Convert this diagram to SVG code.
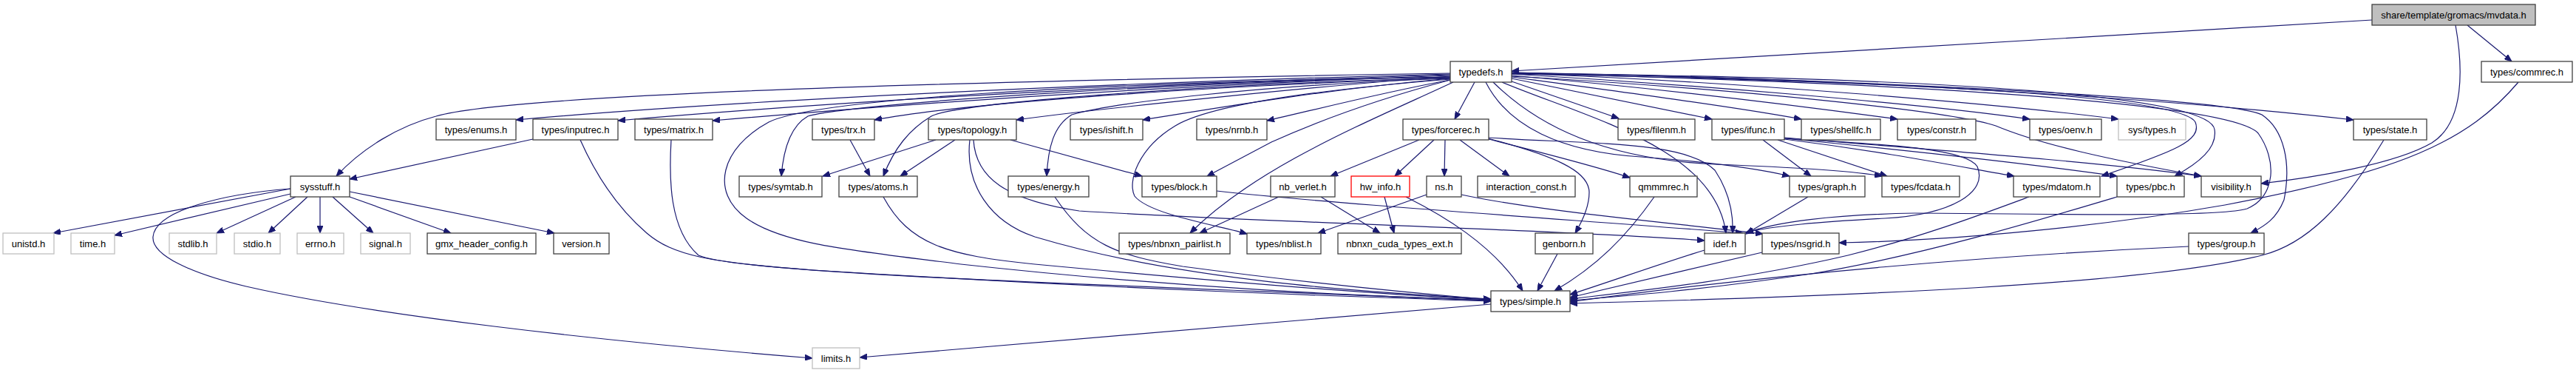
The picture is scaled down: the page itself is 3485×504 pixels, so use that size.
<svg xmlns="http://www.w3.org/2000/svg" width="3485" height="504" viewBox="0 0 3485 504">
<style>
.n rect{fill:#fff;stroke:#404040;stroke-width:1.3}
.g rect{fill:#fff;stroke:#bfbfbf;stroke-width:1.3}
.r rect{fill:#fff;stroke:#ff0000;stroke-width:1.3}
.root rect{fill:#bfbfbf;stroke:#404040;stroke-width:1.3}
text{font-family:"Liberation Sans",Arial,sans-serif;font-size:13px;fill:#000;text-anchor:middle}
#edges path{fill:none;stroke:#191970;stroke-width:1.2;marker-end:url(#a)}
</style>
<defs>
<marker id="a" markerWidth="11" markerHeight="8" refX="10" refY="4" orient="auto" markerUnits="userSpaceOnUse"><path d="M0,0 L10,4 L0,8 z" fill="#191970" stroke="#191970" stroke-width="1"/></marker>
</defs>
<rect width="3485" height="504" fill="#fff"/>
<g id="edges">
<path d="M3209,27 L2045,96"/>
<path d="M3338,34 L3398,83"/>
<path d="M3322,34 C3332,90 3335,165 3290,193 C3240,222 3130,240 3059,248"/>
<path d="M3407,111 C3340,190 3250,232 3010,277 C2850,305 2650,325 2488,328"/>
<path d="M1962,99 C1400,108 700,125 590,157 C540,170 490,200 455,238"/>
<path d="M1962,100 C1500,112 1000,135 698,162"/>
<path d="M1962,101 C1500,115 1100,140 836,163"/>
<path d="M1962,102 C1600,115 1250,138 964,163"/>
<path d="M1962,104 C1600,110 1150,140 1093,157 C1070,170 1060,200 1057,238"/>
<path d="M1962,104 C1450,112 1100,135 1040,165 C975,200 960,260 1010,295 C1060,330 1150,338 1300,357 C1600,390 1850,400 2017,406"/>
<path d="M1962,105 C1600,115 1290,140 1260,157 C1230,175 1210,200 1195,238"/>
<path d="M1962,105 C1600,118 1300,140 1183,162"/>
<path d="M1962,103 C1800,115 1500,145 1375,162"/>
<path d="M1962,106 C1700,115 1500,140 1450,155 C1425,170 1418,200 1416,238"/>
<path d="M1962,106 C1800,120 1650,145 1546,162"/>
<path d="M1962,107 C1800,120 1640,140 1590,170 C1540,200 1525,245 1535,265 C1555,290 1650,305 1687,316"/>
<path d="M1962,108 C1870,125 1780,148 1714,163"/>
<path d="M1962,108 C1860,135 1780,165 1720,192 L1633,238"/>
<path d="M1966,111 C1850,165 1700,225 1610,315"/>
<path d="M1995,111 L1968,161"/>
<path d="M2010,111 C2040,170 2110,205 2220,212 C2300,218 2370,226 2421,238"/>
<path d="M2020,111 C2080,170 2170,215 2320,222 C2420,226 2500,230 2546,238"/>
<path d="M2032,111 C2150,160 2320,200 2335,315"/>
<path d="M2045,110 L2190,160"/>
<path d="M2045,106 L2316,161"/>
<path d="M2045,104 C2200,125 2350,145 2437,161"/>
<path d="M2045,102 C2250,120 2450,145 2567,161"/>
<path d="M2045,100 C2300,115 2600,140 2746,161"/>
<path d="M2045,99 C2350,110 2700,140 2866,161"/>
<path d="M2045,98 C2500,105 2950,135 3184,162"/>
<path d="M2045,100 C2600,110 2950,130 2970,165 C2980,190 2940,205 2843,238"/>
<path d="M2045,99 C2650,105 2990,130 2996,175 C3000,200 2975,220 2942,238"/>
<path d="M2045,103 C2350,120 2640,150 2700,170 C2760,195 2850,215 2978,238"/>
<path d="M2045,98 C2600,110 3020,135 3060,155 C3090,175 3100,220 3090,270 C3080,295 3065,305 3045,315"/>
<path d="M2045,99 C2600,112 3020,140 3055,180 C3080,215 3080,265 3040,282 C3000,295 2700,288 2590,288 C2480,290 2400,300 2362,315"/>
<path d="M2385,189 L2450,238"/>
<path d="M2405,189 L2553,238"/>
<path d="M2414,188 C2550,205 2650,225 2725,238"/>
<path d="M2414,187 C2600,205 2750,222 2864,238"/>
<path d="M2414,186 C2650,205 2850,220 2978,238"/>
<path d="M2414,187 C2550,195 2660,200 2675,225 C2690,260 2640,290 2550,295 C2460,300 2400,305 2362,314"/>
<path d="M1920,189 L1800,238"/>
<path d="M1940,189 L1887,238"/>
<path d="M1955,189 L1954,238"/>
<path d="M1975,189 L2042,238"/>
<path d="M2013,187 C2100,210 2150,230 2150,260 C2150,280 2140,300 2131,315"/>
<path d="M2014,188 C2080,205 2150,222 2205,240"/>
<path d="M2014,186 C2150,195 2280,190 2320,230 C2340,260 2345,290 2344,315"/>
<path d="M1266,189 L1113,238"/>
<path d="M1292,189 L1218,238"/>
<path d="M1367,189 L1545,238"/>
<path d="M1312,189 C1305,250 1340,300 1400,320 C1600,380 1850,395 2017,404"/>
<path d="M1317,189 C1320,240 1360,270 1460,285 C1700,300 2100,310 2306,325"/>
<path d="M1150,189 L1177,238"/>
<path d="M1195,266 C1230,330 1280,345 1400,357 C1700,385 1900,400 2017,405"/>
<path d="M721,188 L473,242"/>
<path d="M785,189 C810,245 840,285 875,315 C910,345 960,355 1100,365 C1500,390 1800,400 2017,407"/>
<path d="M908,189 C905,240 905,310 945,345 C1000,370 1500,385 2017,406"/>
<path d="M1427,266 C1470,330 1510,345 1600,360 C1750,380 1900,395 2017,405"/>
<path d="M1646,258 C1800,275 2100,295 2358,315"/>
<path d="M1730,266 L1623,315"/>
<path d="M1787,266 L1867,315"/>
<path d="M1873,266 L1886,315"/>
<path d="M1902,266 C1950,290 2020,330 2060,393"/>
<path d="M1930,263 L1783,315"/>
<path d="M1977,263 C2080,285 2250,300 2385,316"/>
<path d="M2107,343 L2080,393"/>
<path d="M2238,266 C2200,320 2160,360 2103,393"/>
<path d="M2446,266 L2362,316"/>
<path d="M2306,338 C2250,355 2180,380 2124,398"/>
<path d="M2384,341 C2300,360 2200,385 2124,402"/>
<path d="M2745,266 C2680,290 2600,320 2500,345 C2350,380 2200,395 2124,404"/>
<path d="M2864,266 C2750,300 2600,345 2450,370 C2300,392 2200,400 2124,406"/>
<path d="M2961,333 C2700,345 2400,370 2124,408"/>
<path d="M3225,189 C3170,280 3120,330 3060,345 C2900,385 2500,400 2124,410"/>
<path d="M393,255 L72,315"/>
<path d="M393,262 L155,318"/>
<path d="M400,266 L293,315"/>
<path d="M416,266 L363,315"/>
<path d="M433,266 L433,315"/>
<path d="M450,266 L505,315"/>
<path d="M473,266 L610,315"/>
<path d="M473,259 L750,315"/>
<path d="M393,255 C300,262 210,285 207,320 C205,345 260,370 333,387 C500,425 800,460 1099,484"/>
<path d="M2017,411 L1163,483"/>
</g>
<g id="n_mvdata" class="root"><rect x="3209" y="6" width="221" height="28"/><text x="3319.5" y="24.5">share/template/gromacs/mvdata.h</text></g>
<g id="n_typedefs" class="n"><rect x="1962" y="83" width="83" height="28"/><text x="2003.5" y="101.5">typedefs.h</text></g>
<g id="n_commrec" class="n"><rect x="3357" y="83" width="123" height="28"/><text x="3418.5" y="101.5">types/commrec.h</text></g>
<g id="n_enums" class="n"><rect x="590" y="161" width="108" height="28"/><text x="644" y="179.5">types/enums.h</text></g>
<g id="n_inputrec" class="n"><rect x="721" y="161" width="115" height="28"/><text x="778.5" y="179.5">types/inputrec.h</text></g>
<g id="n_matrix" class="n"><rect x="859" y="161" width="105" height="28"/><text x="911.5" y="179.5">types/matrix.h</text></g>
<g id="n_trx" class="n"><rect x="1099" y="161" width="84" height="28"/><text x="1141" y="179.5">types/trx.h</text></g>
<g id="n_topology" class="n"><rect x="1256" y="161" width="119" height="28"/><text x="1315.5" y="179.5">types/topology.h</text></g>
<g id="n_ishift" class="n"><rect x="1448" y="161" width="98" height="28"/><text x="1497" y="179.5">types/ishift.h</text></g>
<g id="n_nrnb" class="n"><rect x="1619" y="161" width="95" height="28"/><text x="1666.5" y="179.5">types/nrnb.h</text></g>
<g id="n_forcerec" class="n"><rect x="1898" y="161" width="116" height="28"/><text x="1956" y="179.5">types/forcerec.h</text></g>
<g id="n_filenm" class="n"><rect x="2189" y="161" width="104" height="28"/><text x="2241" y="179.5">types/filenm.h</text></g>
<g id="n_ifunc" class="n"><rect x="2316" y="161" width="98" height="28"/><text x="2365" y="179.5">types/ifunc.h</text></g>
<g id="n_shellfc" class="n"><rect x="2437" y="161" width="107" height="28"/><text x="2490.5" y="179.5">types/shellfc.h</text></g>
<g id="n_constr" class="n"><rect x="2567" y="161" width="106" height="28"/><text x="2620" y="179.5">types/constr.h</text></g>
<g id="n_oenv" class="n"><rect x="2746" y="161" width="97" height="28"/><text x="2794.5" y="179.5">types/oenv.h</text></g>
<g id="n_systypes" class="g"><rect x="2866" y="161" width="91" height="28"/><text x="2911.5" y="179.5">sys/types.h</text></g>
<g id="n_state" class="n"><rect x="3184" y="161" width="99" height="28"/><text x="3233.5" y="179.5">types/state.h</text></g>
<g id="n_sysstuff" class="n"><rect x="393" y="238" width="80" height="28"/><text x="433" y="256.5">sysstuff.h</text></g>
<g id="n_symtab" class="n"><rect x="1000" y="238" width="112" height="28"/><text x="1056" y="256.5">types/symtab.h</text></g>
<g id="n_atoms" class="n"><rect x="1135" y="238" width="106" height="28"/><text x="1188" y="256.5">types/atoms.h</text></g>
<g id="n_energy" class="n"><rect x="1364" y="238" width="109" height="28"/><text x="1418.5" y="256.5">types/energy.h</text></g>
<g id="n_block" class="n"><rect x="1545" y="238" width="101" height="28"/><text x="1595.5" y="256.5">types/block.h</text></g>
<g id="n_nbverlet" class="n"><rect x="1719" y="238" width="87" height="28"/><text x="1762.5" y="256.5">nb_verlet.h</text></g>
<g id="n_hwinfo" class="r"><rect x="1828" y="238" width="79" height="28"/><text x="1867.5" y="256.5">hw_info.h</text></g>
<g id="n_ns" class="n"><rect x="1930" y="238" width="47" height="28"/><text x="1953.5" y="256.5">ns.h</text></g>
<g id="n_interaction" class="n"><rect x="1999" y="238" width="132" height="28"/><text x="2065" y="256.5">interaction_const.h</text></g>
<g id="n_qmmmrec" class="n"><rect x="2205" y="238" width="91" height="28"/><text x="2250.5" y="256.5">qmmmrec.h</text></g>
<g id="n_graph" class="n"><rect x="2421" y="238" width="102" height="28"/><text x="2472" y="256.5">types/graph.h</text></g>
<g id="n_fcdata" class="n"><rect x="2546" y="238" width="105" height="28"/><text x="2598.5" y="256.5">types/fcdata.h</text></g>
<g id="n_mdatom" class="n"><rect x="2724" y="238" width="117" height="28"/><text x="2782.5" y="256.5">types/mdatom.h</text></g>
<g id="n_pbc" class="n"><rect x="2864" y="238" width="91" height="28"/><text x="2909.5" y="256.5">types/pbc.h</text></g>
<g id="n_visibility" class="n"><rect x="2978" y="238" width="81" height="28"/><text x="3018.5" y="256.5">visibility.h</text></g>
<g id="n_unistd" class="g"><rect x="4" y="315" width="69" height="28"/><text x="38.5" y="333.5">unistd.h</text></g>
<g id="n_time" class="g"><rect x="96" y="315" width="59" height="28"/><text x="125.5" y="333.5">time.h</text></g>
<g id="n_stdlib" class="g"><rect x="229" y="315" width="64" height="28"/><text x="261" y="333.5">stdlib.h</text></g>
<g id="n_stdio" class="g"><rect x="317" y="315" width="62" height="28"/><text x="348" y="333.5">stdio.h</text></g>
<g id="n_errno" class="g"><rect x="402" y="315" width="63" height="28"/><text x="433.5" y="333.5">errno.h</text></g>
<g id="n_signal" class="g"><rect x="488" y="315" width="67" height="28"/><text x="521.5" y="333.5">signal.h</text></g>
<g id="n_gmxhc" class="n"><rect x="578" y="315" width="147" height="28"/><text x="651.5" y="333.5">gmx_header_config.h</text></g>
<g id="n_version" class="n"><rect x="749" y="315" width="75" height="28"/><text x="786.5" y="333.5">version.h</text></g>
<g id="n_pairlist" class="n"><rect x="1514" y="315" width="150" height="28"/><text x="1589" y="333.5">types/nbnxn_pairlist.h</text></g>
<g id="n_nblist" class="n"><rect x="1687" y="315" width="100" height="28"/><text x="1737" y="333.5">types/nblist.h</text></g>
<g id="n_cudaext" class="n"><rect x="1810" y="315" width="167" height="28"/><text x="1893.5" y="333.5">nbnxn_cuda_types_ext.h</text></g>
<g id="n_genborn" class="n"><rect x="2077" y="315" width="78" height="28"/><text x="2116" y="333.5">genborn.h</text></g>
<g id="n_idef" class="n"><rect x="2306" y="315" width="55" height="28"/><text x="2333.5" y="333.5">idef.h</text></g>
<g id="n_nsgrid" class="n"><rect x="2384" y="315" width="104" height="28"/><text x="2436" y="333.5">types/nsgrid.h</text></g>
<g id="n_group" class="n"><rect x="2961" y="315" width="102" height="28"/><text x="3012" y="333.5">types/group.h</text></g>
<g id="n_simple" class="n"><rect x="2017" y="393" width="107" height="28"/><text x="2070.5" y="411.5">types/simple.h</text></g>
<g id="n_limits" class="g"><rect x="1099" y="470" width="64" height="28"/><text x="1131" y="488.5">limits.h</text></g>
</svg>
